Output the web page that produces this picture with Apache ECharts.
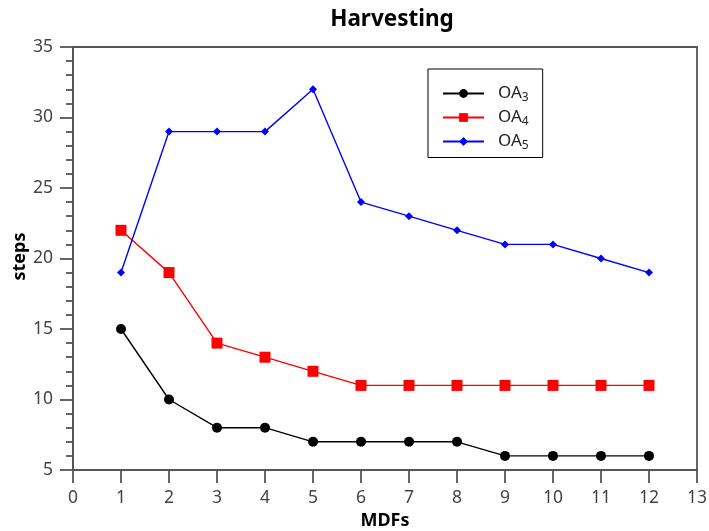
<!DOCTYPE html>
<html><head><meta charset="utf-8">
<script src="https://cdn.jsdelivr.net/npm/echarts@6/dist/echarts.min.js"></script>
<style>html,body{margin:0;padding:0;background:#fff}#c{width:709px;height:531px}</style>
</head><body><div id="c"></div>
<script>
const mdfs = [1,2,3,4,5,6,7,8,9,10,11,12];
const oa3 = [15,10,8,8,7,7,7,7,6,6,6,6];
const oa4 = [22,19,14,13,12,11,11,11,11,11,11,11];
const oa5 = [19,29,29,29,32,24,23,22,21,21,20,19];
const seriesNames = ['OA3','OA4','OA5'];
const FONT = '"Noto Sans", "Open Sans", sans-serif';
const axisColor = '#555';
function pairs(v){ return mdfs.map((x,i)=>[x,v[i]]); }
const chart = echarts.init(document.getElementById('c'), null, {renderer:'canvas'});
chart.setOption({
  animation:false,
  textStyle:{fontFamily:FONT},
  title:{text:'Harvesting', left:387, textAlign:'center', top:3,
    textStyle:{fontFamily:FONT, fontSize:22.5, fontWeight:'bold', color:'#000'}},
  grid:{left:73, right:12, top:47, bottom:61, outerBoundsMode:'none', containLabel:false,
    show:true, borderColor:axisColor, borderWidth:1.8},
  legend:{
    orient:'vertical', left:428, top:69,
    padding:[16,14,6,14], itemGap:5.5,
    itemWidth:41, itemHeight:11,
    borderColor:'#000', borderWidth:1,
    data:seriesNames,
    formatter:function(n){ return '{a|OA}{s|' + n.slice(2) + '}'; },
    textStyle:{fontFamily:FONT, fontSize:17, color:'#222',
      rich:{
        a:{fontSize:17, fontFamily:FONT, color:'#222', lineHeight:20, padding:[0,0,0,9]},
        s:{fontSize:12, fontFamily:FONT, color:'#222', lineHeight:11, verticalAlign:'bottom'}
      }}
  },
  xAxis:{type:'value', min:0, max:13, interval:1,
    name:'MDFs', nameLocation:'middle', nameGap:40,
    nameTextStyle:{fontFamily:FONT, fontSize:18, fontWeight:'bold', color:'#000'},
    axisLine:{show:true, onZero:false, lineStyle:{color:axisColor, width:1.8}},
    axisTick:{show:true, length:13, lineStyle:{color:axisColor, width:1.8}},
    axisLabel:{fontFamily:FONT, fontSize:17.5, color:'#444', margin:19},
    splitLine:{show:false}},
  yAxis:{type:'value', min:5, max:35, interval:5,
    name:'steps', nameLocation:'middle', nameGap:44, nameRotate:90, nameMoveOverlap:false,
    nameTextStyle:{fontFamily:FONT, fontSize:18, fontWeight:'bold', color:'#000', padding:[0,0,0,4]},
    axisLine:{show:true, onZero:false, lineStyle:{color:axisColor, width:1.8}},
    axisTick:{show:true, length:13, lineStyle:{color:axisColor, width:1.8}},
    minorTick:{show:true, splitNumber:5, length:7, lineStyle:{color:axisColor, width:1.8}},
    axisLabel:{fontFamily:FONT, fontSize:17.5, color:'#444', margin:20},
    splitLine:{show:false}},
  series:[
    {name:'OA3', type:'line', data:pairs(oa3), symbol:'circle', symbolSize:10,
      lineStyle:{color:'#000', width:1.4}, itemStyle:{color:'#000'}},
    {name:'OA4', type:'line', data:pairs(oa4), symbol:'rect', symbolSize:11,
      lineStyle:{color:'#ff0000', width:1.4}, itemStyle:{color:'#ff0000'}},
    {name:'OA5', type:'line', data:pairs(oa5), symbol:'diamond', symbolSize:8,
      lineStyle:{color:'#0000ff', width:1.4}, itemStyle:{color:'#0000ff'}}
  ]
});
</script></body></html>
